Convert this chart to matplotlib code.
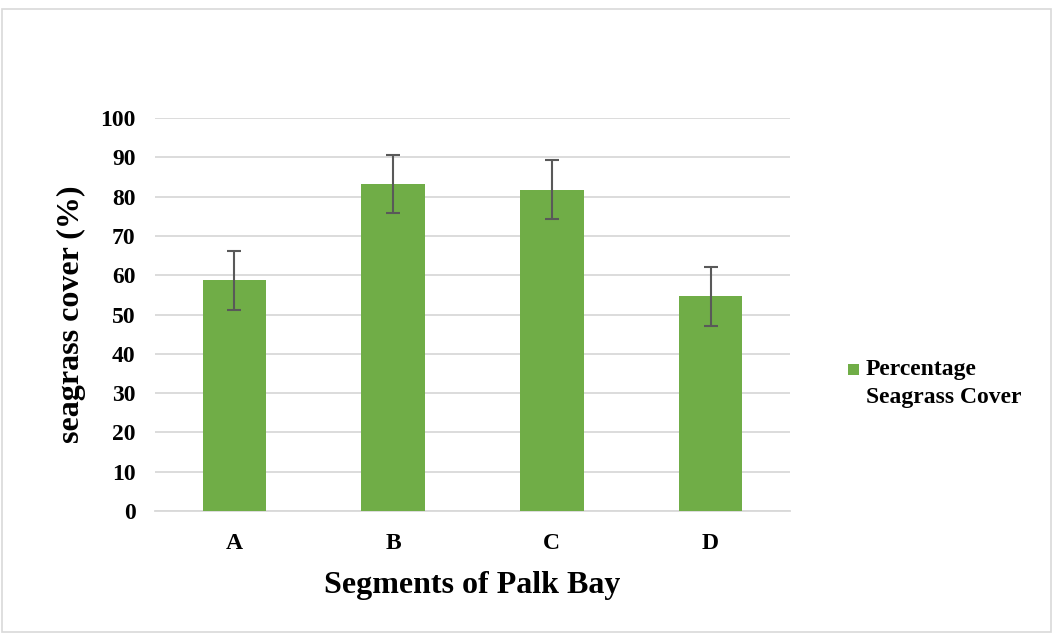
import matplotlib
matplotlib.use("Agg")
import matplotlib.pyplot as plt
from matplotlib.patches import Rectangle

categories = ["A", "B", "C", "D"]
values = [58.7, 83.2, 81.7, 54.7]
errors = [7.5, 7.5, 7.5, 7.5]
yticks = [0, 10, 20, 30, 40, 50, 60, 70, 80, 90, 100]
legend_lines = ["Percentage", "Seagrass Cover"]

plt.rcParams['font.family'] = ['Liberation Serif', 'DejaVu Serif']
plt.rcParams['font.weight'] = 'bold'

fig = plt.figure(figsize=(10.55, 6.33), dpi=100)
ax = fig.add_axes([0.1469, 0.1927, 0.6019, 0.6209])

x = range(len(categories))
ax.bar(x, values, width=0.4, color="#70AD47", zorder=3,
       yerr=errors, error_kw=dict(ecolor="#595959", elinewidth=1.5, capsize=5, capthick=1.5, zorder=4))
ax.set_xlim(-0.5, 3.5)
ax.set_ylim(0, 100)
ax.set_yticks(yticks)
ax.set_xticks(list(x))
ax.set_xticklabels(categories)
ax.grid(axis='y', color="#D9D9D9", linewidth=1.3, zorder=0)
for s in ['top', 'right', 'left']:
    ax.spines[s].set_visible(False)
ax.spines['bottom'].set_color("#D9D9D9")
ax.spines['bottom'].set_linewidth(1.3)
ax.tick_params(axis='both', length=0, labelsize=17)
ax.tick_params(axis='x', pad=16)
ax.tick_params(axis='y', pad=14)
for lbl in ax.get_xticklabels() + ax.get_yticklabels():
    lbl.set_fontweight('bold')
ax.set_ylabel("seagrass cover (%)", fontsize=23, fontweight='bold', labelpad=10)
ax.set_xlabel("Segments of Palk Bay", fontsize=23, fontweight='bold', labelpad=12)

# legend
fig.patches.append(Rectangle((848/1055, 1-375/633), 11/1055, 11/633, transform=fig.transFigure,
                             facecolor="#70AD47", edgecolor='none'))
for i, line in enumerate(legend_lines):
    fig.text(866/1055, 1-(370+28*i)/633, line, fontsize=17, fontweight='bold',
             va='center', ha='left')

# figure border
fig.patches.append(Rectangle((0.002, 0.002), 0.994, 0.984, transform=fig.transFigure,
                             facecolor='none', edgecolor="#D9D9D9", linewidth=1.2))

fig.savefig("out.png", dpi=100)
